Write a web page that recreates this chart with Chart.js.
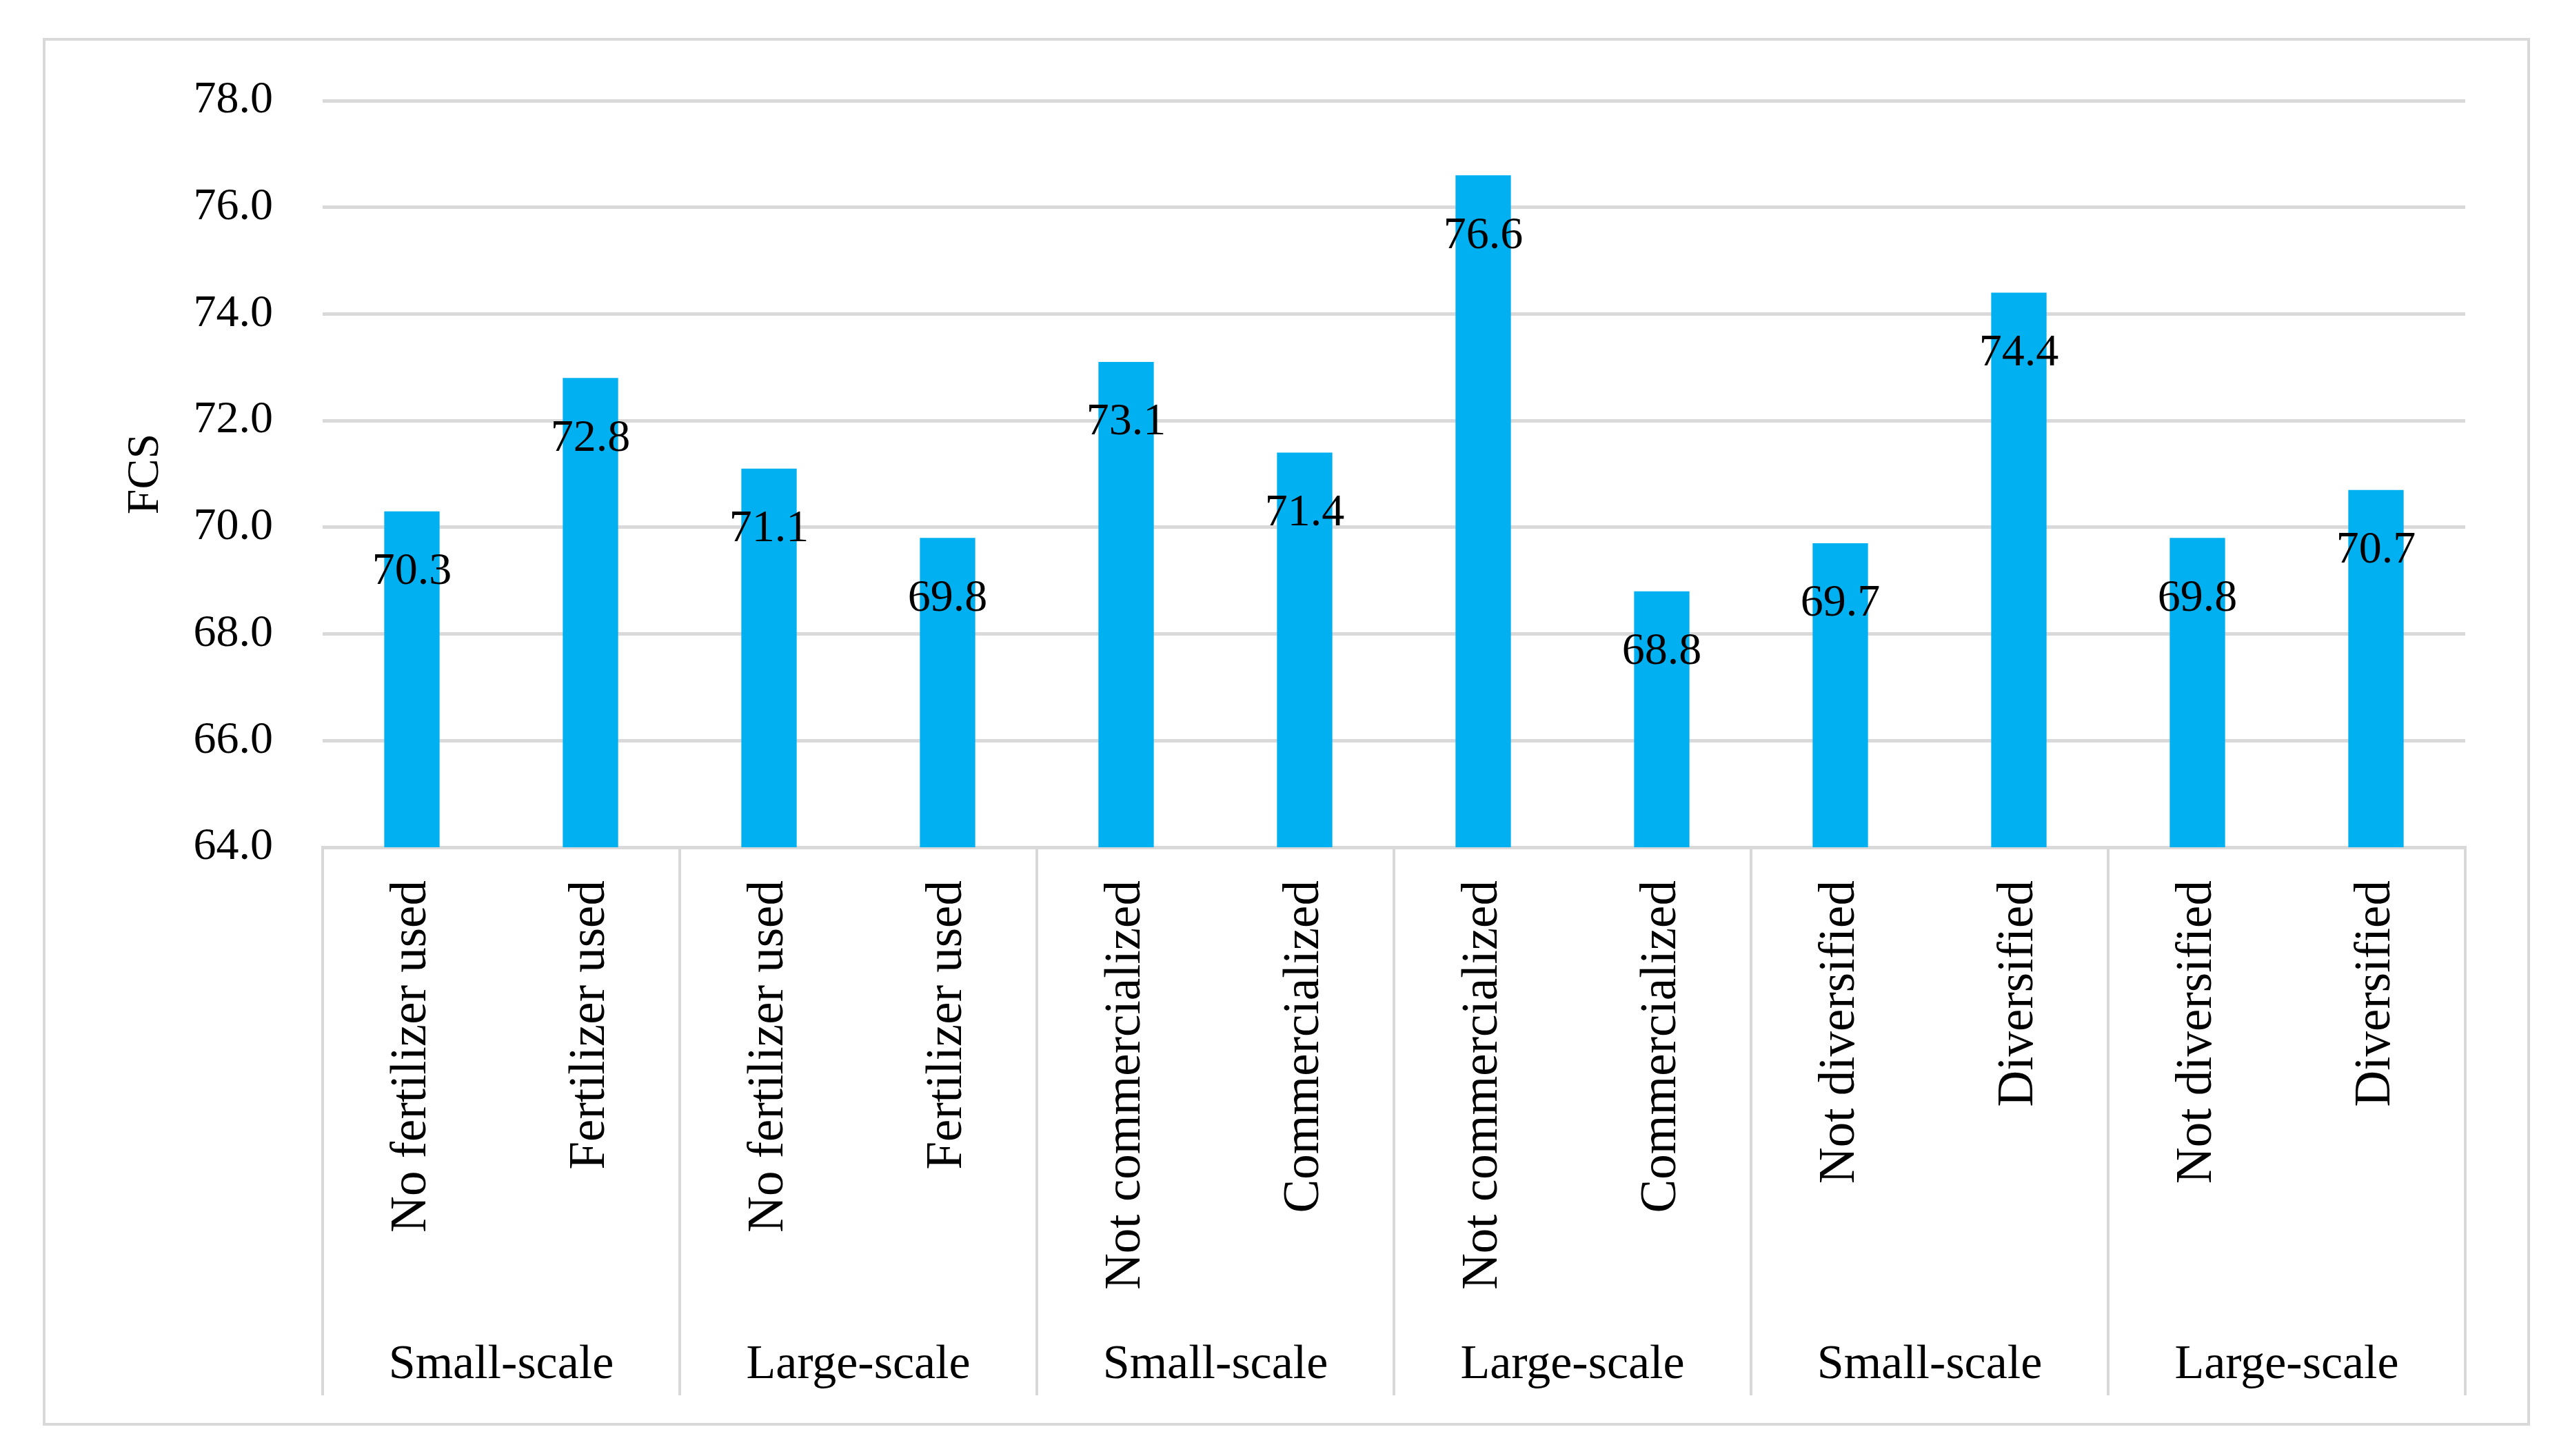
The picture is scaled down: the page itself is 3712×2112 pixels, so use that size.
<!DOCTYPE html>
<html>
<head>
<meta charset="utf-8">
<script src="https://cdn.jsdelivr.net/npm/chart.js@4"></script>
<style>
  html, body { margin: 0; padding: 0; background: #ffffff; }
  #wrap { width: 3712px; height: 2112px; position: relative; }
  canvas { display: block; }
</style>
</head>
<body>
<div id="wrap"><canvas id="c" width="3712" height="2112"></canvas></div>
<script>
// ---- data ----
const categories = [
  "No fertilizer used", "Fertilizer used",
  "No fertilizer used", "Fertilizer used",
  "Not commercialized", "Commercialized",
  "Not commercialized", "Commercialized",
  "Not diversified", "Diversified",
  "Not diversified", "Diversified"
];
const groupLabels = ["Small-scale", "Large-scale", "Small-scale", "Large-scale", "Small-scale", "Large-scale"];
const fcsValues = [70.3, 72.8, 71.1, 69.8, 73.1, 71.4, 76.6, 68.8, 69.7, 74.4, 69.8, 70.7];
const yTicks = [64, 66, 68, 70, 72, 74, 76, 78];
const yTitle = "FCS";

const FONT = "'Liberation Serif', 'Times New Roman', serif";
const GRID = "#d9d9d9";

const frame = {
  id: 'frame',
  beforeDraw(chart) {
    const ctx = chart.ctx;
    ctx.save();
    ctx.fillStyle = '#ffffff';
    ctx.fillRect(0, 0, chart.width, chart.height);
    ctx.strokeStyle = GRID;
    ctx.lineWidth = 4;
    ctx.strokeRect(64, 57, 3604, 2009);
    ctx.restore();
  }
};

const valueLabels = {
  id: 'valueLabels',
  afterDatasetsDraw(chart) {
    const ctx = chart.ctx;
    const meta = chart.getDatasetMeta(0);
    const data = chart.data.datasets[0].data;
    ctx.save();
    ctx.font = "66px " + FONT;
    ctx.fillStyle = "#000000";
    ctx.textAlign = "center";
    ctx.textBaseline = "middle";
    meta.data.forEach((bar, i) => {
      ctx.fillText(data[i].toFixed(1), bar.x, bar.y + 88);
    });
    ctx.restore();
  }
};

new Chart(document.getElementById('c'), {
  type: 'bar',
  data: {
    labels: categories,
    datasets: [{
      data: fcsValues,
      backgroundColor: '#00b0f0',
      borderWidth: 0,
      barPercentage: 0.31,
      categoryPercentage: 1.0,
      xAxisID: 'x',
      yAxisID: 'y'
    }]
  },
  options: {
    responsive: false,
    devicePixelRatio: 1,
    animation: false,
    layout: { padding: { left: 172, right: 136, top: 146, bottom: 63 } },
    plugins: { legend: { display: false }, tooltip: { enabled: false } },
    scales: {
      x: {
        type: 'category',
        position: 'bottom',
        weight: 0,
        offset: true,
        grid: {
          display: true,
          offset: true,
          drawOnChartArea: false,
          drawTicks: true,
          tickLength: 795,
          lineWidth: 4,
          color: (c) => (c.index === undefined || c.index % 2 === 0) ? GRID : 'rgba(0,0,0,0)',
          tickColor: (c) => (c.index === undefined || c.index % 2 === 0) ? GRID : 'rgba(0,0,0,0)'
        },
        border: { display: true, color: GRID, width: 4 },
        ticks: {
          autoSkip: false,
          minRotation: 90,
          maxRotation: 90,
          padding: -747,
          color: '#000000',
          font: { family: FONT, size: 73 }
        },
        afterFit(scale) { scale.height = 680; }
      },
      x2: {
        type: 'category',
        position: 'bottom',
        weight: 1,
        labels: groupLabels,
        offset: true,
        grid: { display: false, drawTicks: false },
        border: { display: false },
        ticks: {
          autoSkip: false,
          maxRotation: 0,
          minRotation: 0,
          padding: 30,
          color: '#000000',
          font: { family: FONT, size: 70 }
        },
        afterFit(scale) { scale.height = 140; }
      },
      y: {
        type: 'linear',
        min: yTicks[0],
        max: yTicks[yTicks.length - 1],
        afterBuildTicks(scale) { scale.ticks = yTicks.map(v => ({ value: v })); },
        grid: { color: GRID, lineWidth: 5, drawTicks: false },
        border: { display: false },
        ticks: {
          padding: 72,
          color: '#000000',
          font: { family: FONT, size: 66 },
          callback: (v) => Number(v).toFixed(1)
        },
        title: {
          display: true,
          text: yTitle,
          color: '#000000',
          font: { family: FONT, size: 66 },
          padding: { top: 0, bottom: 0 }
        },
        afterFit(scale) { scale.width = 296; }
      }
    }
  },
  plugins: [frame, valueLabels]
});
</script>
</body>
</html>
